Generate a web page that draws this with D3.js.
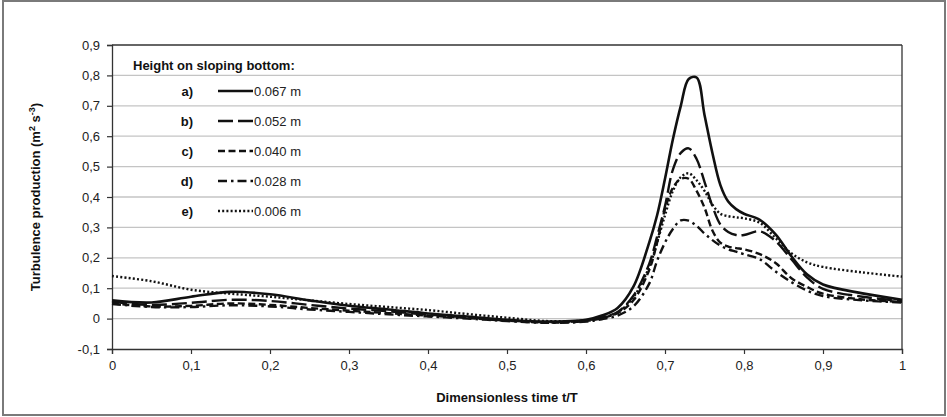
<!DOCTYPE html>
<html>
<head>
<meta charset="utf-8">
<script src="https://cdn.jsdelivr.net/npm/d3@7"></script>
<style>
    body { margin: 0; background: #fff; }
    text { font-family: "Liberation Sans", Arial, sans-serif; }
</style>
</head>
<body>
<div id="canvas"></div>
<script>
"use strict";

let svgWidth = 947;
let svgHeight = 417;

let margin = { top: 45, right: 45, bottom: 68, left: 112 };

/* ---------------- DATA ---------------- */
let timeValues = [0, 0.05, 0.1, 0.15, 0.2, 0.25, 0.3, 0.35, 0.4, 0.45, 0.5, 0.55, 0.6,
    0.62, 0.64, 0.66, 0.68, 0.69, 0.70, 0.71, 0.72, 0.73, 0.74, 0.75, 0.76, 0.77,
    0.78, 0.79, 0.80, 0.82, 0.84, 0.86, 0.88, 0.90, 0.95, 1.0];

let heightA = [0.060, 0.053, 0.072, 0.088, 0.080, 0.060, 0.042, 0.030, 0.017, 0.007, -0.004, -0.010, -0.004,
    0.010, 0.035, 0.105, 0.250, 0.340, 0.460, 0.590, 0.700, 0.788, 0.793, 0.670, 0.545, 0.440,
    0.385, 0.360, 0.345, 0.325, 0.277, 0.205, 0.145, 0.112, 0.083, 0.062];

let heightB = [0.055, 0.045, 0.052, 0.062, 0.058, 0.045, 0.033, 0.024, 0.013, 0.004, -0.006, -0.012, -0.006,
    0.004, 0.022, 0.075, 0.180, 0.270, 0.370, 0.490, 0.545, 0.560, 0.525, 0.450, 0.370, 0.310,
    0.285, 0.275, 0.275, 0.287, 0.255, 0.195, 0.135, 0.098, 0.072, 0.058];

let heightC = [0.050, 0.040, 0.042, 0.050, 0.045, 0.035, 0.026, 0.018, 0.010, 0.002, -0.007, -0.013, -0.008,
    0.002, 0.018, 0.060, 0.160, 0.250, 0.360, 0.430, 0.460, 0.460, 0.420, 0.365, 0.290, 0.250,
    0.237, 0.232, 0.228, 0.212, 0.183, 0.133, 0.104, 0.082, 0.063, 0.055];

let heightD = [0.048, 0.038, 0.038, 0.044, 0.040, 0.030, 0.022, 0.014, 0.007, 0.000, -0.008, -0.014, -0.010,
    -0.002, 0.010, 0.040, 0.115, 0.190, 0.250, 0.295, 0.323, 0.322, 0.305, 0.280, 0.258, 0.240,
    0.228, 0.220, 0.212, 0.195, 0.155, 0.120, 0.092, 0.074, 0.060, 0.053];

let heightE = [0.140, 0.123, 0.095, 0.082, 0.072, 0.060, 0.048, 0.038, 0.028, 0.015, 0.003, -0.008, -0.006,
    0.004, 0.020, 0.070, 0.170, 0.250, 0.340, 0.420, 0.465, 0.478, 0.455, 0.420, 0.375, 0.345,
    0.337, 0.333, 0.330, 0.315, 0.265, 0.215, 0.185, 0.170, 0.152, 0.138];

let seriesLetters = ["a)", "b)", "c)", "d)", "e)"];
let seriesNames = ["0.067 m", "0.052 m", "0.040 m", "0.028 m", "0.006 m"];

let xTicks = [0, 0.1, 0.2, 0.3, 0.4, 0.5, 0.6, 0.7, 0.8, 0.9, 1];
let yTicks = [-0.1, 0, 0.1, 0.2, 0.3, 0.4, 0.5, 0.6, 0.7, 0.8, 0.9];

/* ---------------- STYLES ---------------- */
let dashes = [null, "15,5", "7,3.5", "9,4,2.5,4", "2,2.2"];

let svg = d3.select("#canvas")
    .append("svg")
    .attr("width", svgWidth)
    .attr("height", svgHeight);

/* Outer border */
svg.append("rect")
    .attr("x", 3)
    .attr("y", 1)
    .attr("width", 942)
    .attr("height", 414)
    .attr("fill", "white")
    .attr("stroke", "#7a7a7a")
    .attr("stroke-width", 2);

let xScale = d3.scaleLinear()
    .domain([0, 1])
    .range([margin.left, svgWidth - margin.right]);

let yScale = d3.scaleLinear()
    .domain([-0.1, 0.9])
    .range([svgHeight - margin.bottom, margin.top]);

// comma decimals, plain hyphen for minus
let commaFormat = function (d) {
    let s = d3.format(".1~f")(d);
    return s.replace(".", ",").replace("\u2212", "-");
};

/* ---------------- GRID ---------------- */
svg.append("g")
    .selectAll("line")
    .data(yTicks.filter(d => d > -0.05 && d < 0.85))
    .join("line")
    .attr("x1", xScale(0))
    .attr("x2", xScale(1))
    .attr("y1", d => yScale(d))
    .attr("y2", d => yScale(d))
    .attr("stroke", "#c4c4c4")
    .attr("stroke-width", 1.3);

/* frame top + right */
svg.append("line")
    .attr("x1", xScale(0)).attr("x2", xScale(1))
    .attr("y1", yScale(0.9)).attr("y2", yScale(0.9))
    .attr("stroke", "#333").attr("stroke-width", 1.3);

svg.append("line")
    .attr("x1", xScale(1)).attr("x2", xScale(1))
    .attr("y1", yScale(0.9)).attr("y2", yScale(-0.1))
    .attr("stroke", "#333").attr("stroke-width", 1.3);

/* ---------------- AXES ---------------- */
let xAxis = d3.axisBottom(xScale)
    .tickValues(xTicks)
    .tickSize(5)
    .tickPadding(7)
    .tickFormat(commaFormat);

let xAxisG = svg.append("g")
    .attr("transform", "translate(0," + yScale(-0.1) + ")")
    .call(xAxis);

let yAxis = d3.axisLeft(yScale)
    .tickValues(yTicks)
    .tickSize(5)
    .tickPadding(7)
    .tickFormat(commaFormat);

let yAxisG = svg.append("g")
    .attr("transform", "translate(" + xScale(0) + ",0)")
    .call(yAxis);

[xAxisG, yAxisG].forEach(function (g) {
    g.select(".domain").attr("stroke", "#333").attr("stroke-width", 1.3);
    g.selectAll(".tick line").attr("stroke", "#333").attr("stroke-width", 1.2);
    g.selectAll(".tick text")
        .attr("font-family", "Liberation Sans, Arial, sans-serif")
        .attr("font-size", "13px")
        .attr("fill", "#222");
});

/* axis titles */
svg.append("text")
    .attr("x", (xScale(0) + xScale(1)) / 2)
    .attr("y", 402)
    .attr("text-anchor", "middle")
    .attr("font-size", "13px")
    .attr("font-weight", "bold")
    .attr("fill", "#111")
    .text("Dimensionless time t/T");

let yTitle = svg.append("text")
    .attr("transform", "translate(40," + ((yScale(0.9) + yScale(-0.1)) / 2) + ") rotate(-90)")
    .attr("text-anchor", "middle")
    .attr("font-size", "13px")
    .attr("font-weight", "bold")
    .attr("fill", "#111");

yTitle.append("tspan").text("Turbulence production (m");
yTitle.append("tspan").attr("font-size", "9px").attr("dy", -5).text("2");
yTitle.append("tspan").attr("dy", 5).text(" s");
yTitle.append("tspan").attr("font-size", "9px").attr("dy", -5).text("-3");
yTitle.append("tspan").attr("dy", 5).text(")");

/* ---------------- LINES ---------------- */
let allSeries = [heightA, heightB, heightC, heightD, heightE];

let line = d3.line()
    .x((d, i) => xScale(timeValues[i]))
    .y(d => yScale(d))
    .curve(d3.curveCatmullRom.alpha(0.5));

let linesLayer = svg.append("g").attr("id", "linesLayer");

allSeries.forEach(function (values, i) {
    linesLayer.append("path")
        .datum(values)
        .attr("d", line)
        .attr("fill", "none")
        .attr("stroke", "#111")
        .attr("stroke-width", i === 0 ? 2.6 : 2.4)
        .attr("stroke-dasharray", dashes[i]);
});

/* ---------------- LEGEND ---------------- */
svg.append("text")
    .attr("x", 133)
    .attr("y", 70)
    .attr("font-size", "13px")
    .attr("font-weight", "bold")
    .attr("fill", "#111")
    .text("Height on sloping bottom:");

seriesNames.forEach(function (name, i) {
    let rowY = 96 + i * 30;

    svg.append("text")
        .attr("x", 193)
        .attr("y", rowY)
        .attr("text-anchor", "end")
        .attr("font-size", "13px")
        .attr("font-weight", "bold")
        .attr("fill", "#111")
        .text(seriesLetters[i]);

    svg.append("line")
        .attr("x1", 218)
        .attr("x2", 253)
        .attr("y1", rowY - 5)
        .attr("y2", rowY - 5)
        .attr("stroke", "#111")
        .attr("stroke-width", i === 0 ? 2.6 : 2.4)
        .attr("stroke-dasharray", dashes[i]);

    svg.append("text")
        .attr("x", 254)
        .attr("y", rowY)
        .attr("font-size", "13px")
        .attr("fill", "#222")
        .text(name);
});
</script>
</body>
</html>
